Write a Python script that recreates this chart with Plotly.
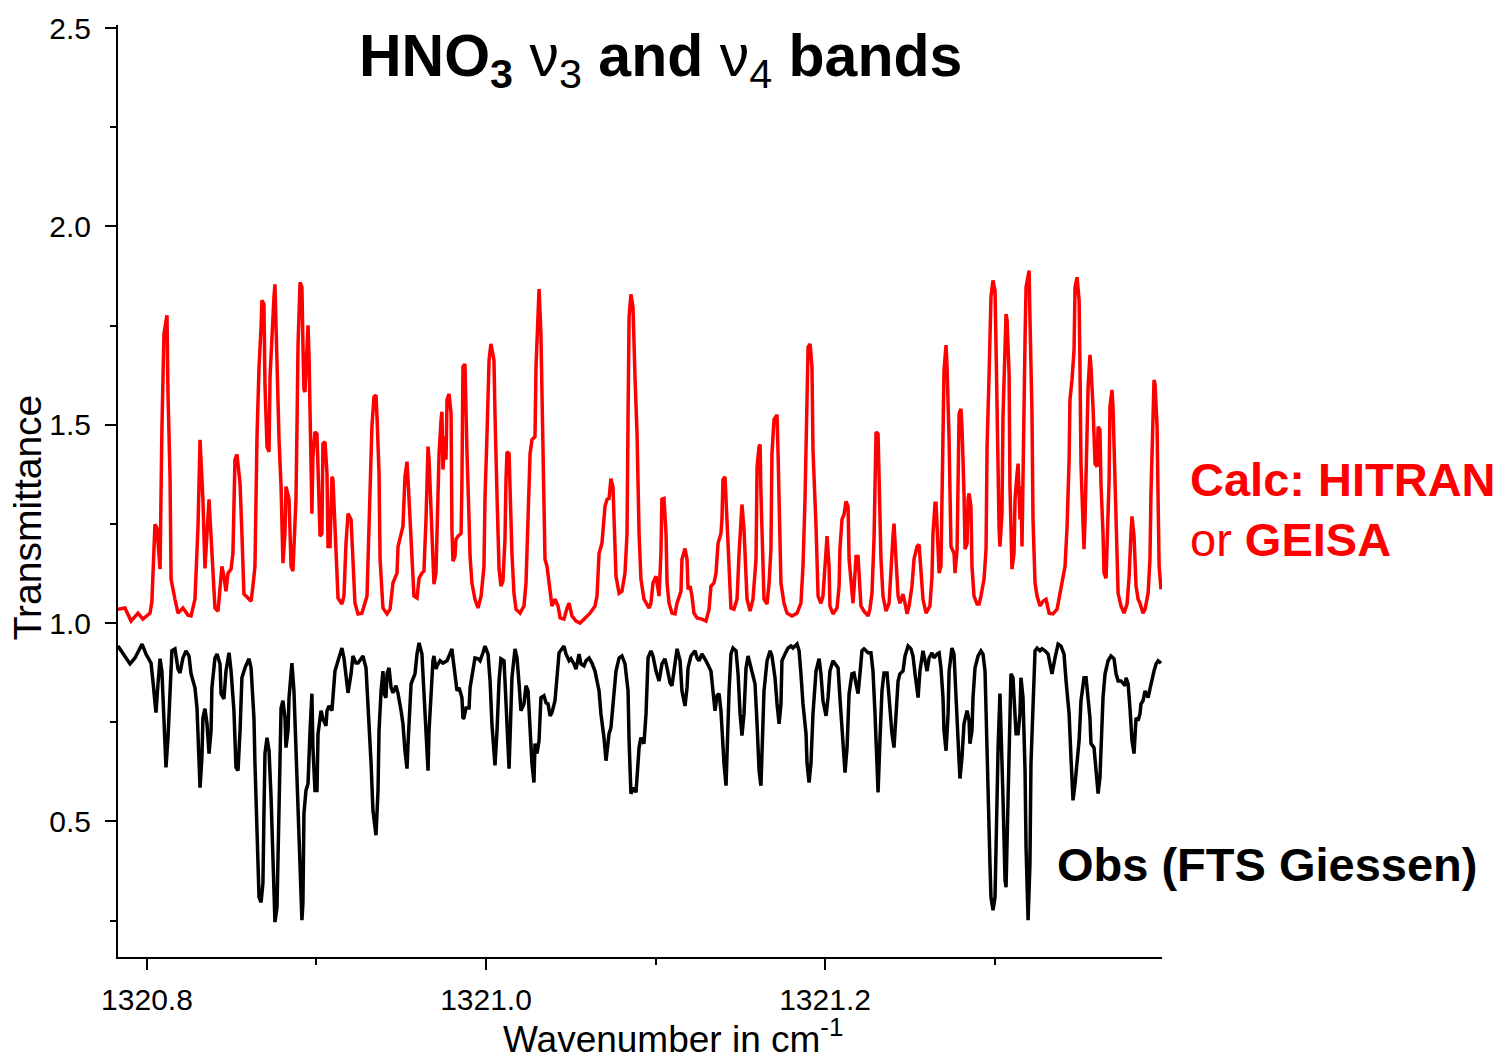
import plotly.graph_objects as go

# Calculated HNO3 transmittance (offset by +1 above the observed trace)
calc_wn = [
    1320.7829, 1320.7870, 1320.7906, 1320.7947, 1320.7976, 1320.8018, 1320.8029, 1320.8035, 1320.8047, 1320.8059,
    1320.8077, 1320.8088, 1320.8100, 1320.8118, 1320.8124, 1320.8136, 1320.8142, 1320.8165, 1320.8183, 1320.8212,
    1320.8242, 1320.8260, 1320.8283, 1320.8301, 1320.8313, 1320.8330, 1320.8342, 1320.8366, 1320.8378, 1320.8389,
    1320.8401, 1320.8419, 1320.8431, 1320.8442, 1320.8454, 1320.8466, 1320.8478, 1320.8496, 1320.8507, 1320.8519,
    1320.8531, 1320.8549, 1320.8560, 1320.8572, 1320.8596, 1320.8614, 1320.8625, 1320.8637, 1320.8649, 1320.8661,
    1320.8673, 1320.8678, 1320.8690, 1320.8696, 1320.8708, 1320.8720, 1320.8726, 1320.8737, 1320.8749, 1320.8755,
    1320.8767, 1320.8779, 1320.8791, 1320.8796, 1320.8802, 1320.8814, 1320.8820, 1320.8838, 1320.8850, 1320.8861,
    1320.8879, 1320.8885, 1320.8891, 1320.8903, 1320.8914, 1320.8920, 1320.8926, 1320.8932, 1320.8944, 1320.8950,
    1320.8956, 1320.8962, 1320.8968, 1320.8973, 1320.8979, 1320.8991, 1320.9003, 1320.9009, 1320.9021, 1320.9032,
    1320.9038, 1320.9050, 1320.9062, 1320.9068, 1320.9080, 1320.9091, 1320.9097, 1320.9109, 1320.9121, 1320.9127,
    1320.9150, 1320.9162, 1320.9174, 1320.9186, 1320.9204, 1320.9215, 1320.9227, 1320.9245, 1320.9268, 1320.9298,
    1320.9310, 1320.9327, 1320.9339, 1320.9351, 1320.9357, 1320.9369, 1320.9375, 1320.9392, 1320.9416, 1320.9434,
    1320.9451, 1320.9475, 1320.9481, 1320.9499, 1320.9510, 1320.9522, 1320.9534, 1320.9540, 1320.9552, 1320.9563,
    1320.9575, 1320.9593, 1320.9605, 1320.9622, 1320.9634, 1320.9646, 1320.9652, 1320.9658, 1320.9664, 1320.9676,
    1320.9687, 1320.9693, 1320.9705, 1320.9711, 1320.9723, 1320.9735, 1320.9740, 1320.9746, 1320.9758, 1320.9764,
    1320.9770, 1320.9782, 1320.9794, 1320.9799, 1320.9805, 1320.9817, 1320.9823, 1320.9835, 1320.9853, 1320.9858,
    1320.9864, 1320.9876, 1320.9882, 1320.9888, 1320.9900, 1320.9906, 1320.9917, 1320.9935, 1320.9953, 1320.9971,
    1320.9988, 1320.9994, 1321.0006, 1321.0018, 1321.0029, 1321.0047, 1321.0053, 1321.0059, 1321.0065, 1321.0077,
    1321.0088, 1321.0100, 1321.0112, 1321.0118, 1321.0124, 1321.0136, 1321.0142, 1321.0153, 1321.0165, 1321.0177,
    1321.0201, 1321.0224, 1321.0236, 1321.0248, 1321.0260, 1321.0271, 1321.0289, 1321.0295, 1321.0307, 1321.0313,
    1321.0324, 1321.0336, 1321.0348, 1321.0360, 1321.0372, 1321.0389, 1321.0407, 1321.0425, 1321.0437, 1321.0460,
    1321.0478, 1321.0490, 1321.0507, 1321.0531, 1321.0555, 1321.0584, 1321.0614, 1321.0643, 1321.0655, 1321.0667,
    1321.0684, 1321.0702, 1321.0714, 1321.0726, 1321.0737, 1321.0749, 1321.0755, 1321.0767, 1321.0785, 1321.0802,
    1321.0820, 1321.0832, 1321.0838, 1321.0844, 1321.0855, 1321.0867, 1321.0879, 1321.0885, 1321.0891, 1321.0903,
    1321.0914, 1321.0932, 1321.0962, 1321.0973, 1321.0985, 1321.1003, 1321.1009, 1321.1021, 1321.1032, 1321.1038,
    1321.1050, 1321.1062, 1321.1068, 1321.1080, 1321.1097, 1321.1115, 1321.1127, 1321.1150, 1321.1156, 1321.1174,
    1321.1186, 1321.1192, 1321.1204, 1321.1215, 1321.1227, 1321.1245, 1321.1274, 1321.1298, 1321.1316, 1321.1327,
    1321.1345, 1321.1357, 1321.1369, 1321.1386, 1321.1392, 1321.1398, 1321.1410, 1321.1416, 1321.1422, 1321.1434,
    1321.1445, 1321.1463, 1321.1481, 1321.1493, 1321.1504, 1321.1510, 1321.1522, 1321.1534, 1321.1540, 1321.1558,
    1321.1575, 1321.1593, 1321.1599, 1321.1611, 1321.1617, 1321.1622, 1321.1628, 1321.1640, 1321.1658, 1321.1670,
    1321.1681, 1321.1687, 1321.1699, 1321.1717, 1321.1723, 1321.1729, 1321.1740, 1321.1758, 1321.1776, 1321.1805,
    1321.1835, 1321.1858, 1321.1870, 1321.1882, 1321.1894, 1321.1900, 1321.1912, 1321.1923, 1321.1929, 1321.1935,
    1321.1947, 1321.1959, 1321.1976, 1321.1988, 1321.2000, 1321.2012, 1321.2024, 1321.2029, 1321.2047, 1321.2071,
    1321.2083, 1321.2088, 1321.2100, 1321.2112, 1321.2124, 1321.2136, 1321.2142, 1321.2153, 1321.2165, 1321.2171,
    1321.2183, 1321.2195, 1321.2201, 1321.2212, 1321.2230, 1321.2254, 1321.2265, 1321.2277, 1321.2289, 1321.2295,
    1321.2301, 1321.2313, 1321.2319, 1321.2330, 1321.2342, 1321.2360, 1321.2378, 1321.2389, 1321.2401, 1321.2407,
    1321.2419, 1321.2431, 1321.2442, 1321.2460, 1321.2472, 1321.2484, 1321.2496, 1321.2513, 1321.2525, 1321.2543,
    1321.2555, 1321.2566, 1321.2578, 1321.2596, 1321.2619, 1321.2631, 1321.2637, 1321.2649, 1321.2655, 1321.2667,
    1321.2673, 1321.2684, 1321.2690, 1321.2696, 1321.2702, 1321.2714, 1321.2720, 1321.2732, 1321.2737, 1321.2743,
    1321.2761, 1321.2767, 1321.2779, 1321.2785, 1321.2791, 1321.2802, 1321.2808, 1321.2820, 1321.2826, 1321.2838,
    1321.2844, 1321.2850, 1321.2861, 1321.2867, 1321.2879, 1321.2897, 1321.2909, 1321.2920, 1321.2938, 1321.2950,
    1321.2956, 1321.2968, 1321.2973, 1321.2979, 1321.2991, 1321.3003, 1321.3009, 1321.3015, 1321.3021, 1321.3027,
    1321.3032, 1321.3044, 1321.3050, 1321.3062, 1321.3068, 1321.3074, 1321.3086, 1321.3091, 1321.3097, 1321.3103,
    1321.3115, 1321.3121, 1321.3133, 1321.3139, 1321.3150, 1321.3156, 1321.3162, 1321.3168, 1321.3180, 1321.3186,
    1321.3204, 1321.3209, 1321.3221, 1321.3227, 1321.3239, 1321.3251, 1321.3268, 1321.3286, 1321.3304, 1321.3322,
    1321.3345, 1321.3369, 1321.3392, 1321.3404, 1321.3416, 1321.3428, 1321.3440, 1321.3445, 1321.3457, 1321.3469,
    1321.3475, 1321.3487, 1321.3499, 1321.3504, 1321.3510, 1321.3522, 1321.3528, 1321.3534, 1321.3546, 1321.3552,
    1321.3563, 1321.3569, 1321.3581, 1321.3587, 1321.3593, 1321.3605, 1321.3611, 1321.3622, 1321.3628, 1321.3640,
    1321.3646, 1321.3658, 1321.3664, 1321.3676, 1321.3681, 1321.3693, 1321.3699, 1321.3711, 1321.3717, 1321.3729,
    1321.3746, 1321.3764, 1321.3782, 1321.3794, 1321.3805, 1321.3811, 1321.3823, 1321.3835, 1321.3847, 1321.3858,
    1321.3876, 1321.3888, 1321.3906, 1321.3917, 1321.3923, 1321.3935, 1321.3941, 1321.3947, 1321.3959, 1321.3965,
    1321.3971, 1321.3982,
]
calc_tr = [
    1.035, 1.038, 1.005, 1.025, 1.010, 1.025, 1.055, 1.143, 1.249, 1.239,
    1.136, 1.487, 1.729, 1.776, 1.578, 1.369, 1.111, 1.060, 1.025, 1.038,
    1.020, 1.018, 1.060, 1.244, 1.462, 1.312, 1.138, 1.312, 1.226, 1.118,
    1.038, 1.030, 1.085, 1.143, 1.118, 1.080, 1.126, 1.136, 1.176, 1.412,
    1.425, 1.352, 1.226, 1.073, 1.063, 1.055, 1.093, 1.143, 1.470, 1.646,
    1.746, 1.814, 1.804, 1.603, 1.445, 1.432, 1.621, 1.729, 1.822, 1.854,
    1.646, 1.462, 1.344, 1.244, 1.151, 1.226, 1.344, 1.312, 1.143, 1.131,
    1.312, 1.495, 1.701, 1.859, 1.847, 1.704, 1.588, 1.583, 1.729, 1.751,
    1.671, 1.503, 1.294, 1.276, 1.420, 1.482, 1.477, 1.362, 1.219, 1.226,
    1.452, 1.457, 1.377, 1.193, 1.193, 1.369, 1.362, 1.244, 1.118, 1.063,
    1.048, 1.068, 1.201, 1.276, 1.261, 1.143, 1.050, 1.023, 1.025, 1.068,
    1.226, 1.495, 1.570, 1.575, 1.520, 1.377, 1.161, 1.038, 1.023, 1.035,
    1.101, 1.126, 1.193, 1.224, 1.244, 1.369, 1.407, 1.362, 1.244, 1.168,
    1.068, 1.063, 1.113, 1.126, 1.131, 1.261, 1.412, 1.445, 1.412, 1.269,
    1.143, 1.098, 1.126, 1.244, 1.427, 1.513, 1.533, 1.387, 1.470, 1.412,
    1.563, 1.578, 1.528, 1.236, 1.156, 1.168, 1.211, 1.219, 1.226, 1.352,
    1.646, 1.653, 1.495, 1.427, 1.261, 1.168, 1.101, 1.060, 1.038, 1.068,
    1.143, 1.312, 1.477, 1.663, 1.704, 1.663, 1.528, 1.394, 1.319, 1.138,
    1.093, 1.106, 1.211, 1.362, 1.432, 1.427, 1.312, 1.176, 1.075, 1.035,
    1.025, 1.043, 1.101, 1.261, 1.427, 1.462, 1.470, 1.646, 1.764, 1.842,
    1.729, 1.394, 1.161, 1.143, 1.093, 1.043, 1.060, 1.043, 1.013, 1.010,
    1.038, 1.050, 1.018, 1.005, 1.000, 1.013, 1.025, 1.043, 1.068, 1.176,
    1.201, 1.294, 1.312, 1.314, 1.364, 1.344, 1.261, 1.118, 1.075, 1.080,
    1.126, 1.226, 1.520, 1.771, 1.829, 1.797, 1.621, 1.545, 1.477, 1.226,
    1.111, 1.060, 1.038, 1.050, 1.101, 1.118, 1.101, 1.068, 1.176, 1.312,
    1.314, 1.226, 1.101, 1.050, 1.025, 1.023, 1.050, 1.080, 1.161, 1.188,
    1.161, 1.085, 1.093, 1.068, 1.025, 1.013, 1.010, 1.005, 1.035, 1.093,
    1.101, 1.126, 1.201, 1.226, 1.261, 1.362, 1.369, 1.312, 1.226, 1.101,
    1.038, 1.035, 1.060, 1.176, 1.286, 1.299, 1.236, 1.143, 1.060, 1.030,
    1.060, 1.161, 1.394, 1.445, 1.450, 1.327, 1.211, 1.060, 1.048, 1.101,
    1.186, 1.427, 1.513, 1.525, 1.427, 1.269, 1.101, 1.050, 1.025, 1.018,
    1.025, 1.050, 1.143, 1.312, 1.563, 1.696, 1.704, 1.646, 1.437, 1.377,
    1.244, 1.068, 1.050, 1.068, 1.161, 1.219, 1.143, 1.043, 1.023, 1.038,
    1.093, 1.186, 1.261, 1.274, 1.307, 1.294, 1.161, 1.093, 1.050, 1.085,
    1.168, 1.168, 1.111, 1.043, 1.030, 1.018, 1.035, 1.075, 1.211, 1.352,
    1.482, 1.477, 1.362, 1.161, 1.068, 1.030, 1.050, 1.143, 1.219, 1.251,
    1.161, 1.068, 1.050, 1.073, 1.050, 1.023, 1.043, 1.093, 1.161, 1.193,
    1.198, 1.143, 1.060, 1.025, 1.043, 1.118, 1.226, 1.302, 1.302, 1.186,
    1.126, 1.143, 1.312, 1.470, 1.638, 1.701, 1.646, 1.462, 1.312, 1.193,
    1.176, 1.126, 1.186, 1.402, 1.528, 1.540, 1.495, 1.327, 1.186, 1.201,
    1.312, 1.327, 1.294, 1.143, 1.068, 1.048, 1.048, 1.068, 1.111, 1.186,
    1.445, 1.628, 1.704, 1.822, 1.864, 1.839, 1.696, 1.513, 1.420, 1.236,
    1.193, 1.276, 1.520, 1.688, 1.779, 1.764, 1.628, 1.344, 1.211, 1.136,
    1.176, 1.312, 1.377, 1.402, 1.261, 1.344, 1.193, 1.412, 1.714, 1.847,
    1.889, 1.771, 1.528, 1.261, 1.101, 1.068, 1.043, 1.055, 1.060, 1.025,
    1.023, 1.035, 1.093, 1.126, 1.143, 1.244, 1.412, 1.563, 1.613, 1.688,
    1.847, 1.872, 1.814, 1.653, 1.402, 1.251, 1.186, 1.261, 1.477, 1.595,
    1.676, 1.646, 1.545, 1.462, 1.402, 1.394, 1.495, 1.487, 1.352, 1.226,
    1.126, 1.113, 1.201, 1.362, 1.545, 1.588, 1.545, 1.352, 1.186, 1.075,
    1.043, 1.025, 1.048, 1.118, 1.226, 1.269, 1.219, 1.093, 1.060, 1.050,
    1.025, 1.035, 1.075, 1.161, 1.327, 1.495, 1.613, 1.603, 1.495, 1.312,
    1.143, 1.085,
]

# Observed spectrum (FTS Giessen)
obs_wn = [
    1320.7829, 1320.7858, 1320.7900, 1320.7929, 1320.7971, 1320.7994, 1320.8024, 1320.8035, 1320.8047, 1320.8053,
    1320.8065, 1320.8077, 1320.8088, 1320.8100, 1320.8112, 1320.8124, 1320.8136, 1320.8147, 1320.8165, 1320.8183,
    1320.8195, 1320.8212, 1320.8230, 1320.8248, 1320.8260, 1320.8283, 1320.8295, 1320.8307, 1320.8313, 1320.8324,
    1320.8330, 1320.8342, 1320.8354, 1320.8366, 1320.8378, 1320.8383, 1320.8401, 1320.8413, 1320.8431, 1320.8437,
    1320.8454, 1320.8466, 1320.8484, 1320.8496, 1320.8513, 1320.8525, 1320.8537, 1320.8549, 1320.8560, 1320.8578,
    1320.8602, 1320.8614, 1320.8631, 1320.8637, 1320.8649, 1320.8661, 1320.8673, 1320.8684, 1320.8690, 1320.8696,
    1320.8708, 1320.8720, 1320.8732, 1320.8737, 1320.8749, 1320.8755, 1320.8767, 1320.8773, 1320.8785, 1320.8791,
    1320.8802, 1320.8814, 1320.8820, 1320.8832, 1320.8838, 1320.8850, 1320.8855, 1320.8867, 1320.8879, 1320.8891,
    1320.8903, 1320.8914, 1320.8920, 1320.8926, 1320.8938, 1320.8950, 1320.8962, 1320.8973, 1320.8979, 1320.8991,
    1320.9003, 1320.9009, 1320.9027, 1320.9038, 1320.9056, 1320.9062, 1320.9074, 1320.9091, 1320.9097, 1320.9109,
    1320.9127, 1320.9150, 1320.9162, 1320.9180, 1320.9186, 1320.9204, 1320.9215, 1320.9233, 1320.9245, 1320.9263,
    1320.9274, 1320.9292, 1320.9304, 1320.9322, 1320.9333, 1320.9351, 1320.9363, 1320.9369, 1320.9381, 1320.9392,
    1320.9398, 1320.9410, 1320.9416, 1320.9428, 1320.9440, 1320.9451, 1320.9469, 1320.9481, 1320.9499, 1320.9510,
    1320.9522, 1320.9534, 1320.9540, 1320.9546, 1320.9558, 1320.9569, 1320.9581, 1320.9593, 1320.9605, 1320.9622,
    1320.9628, 1320.9640, 1320.9652, 1320.9658, 1320.9664, 1320.9676, 1320.9687, 1320.9693, 1320.9705, 1320.9711,
    1320.9729, 1320.9746, 1320.9770, 1320.9782, 1320.9799, 1320.9805, 1320.9817, 1320.9829, 1320.9841, 1320.9858,
    1320.9864, 1320.9870, 1320.9882, 1320.9900, 1320.9906, 1320.9923, 1320.9935, 1320.9953, 1320.9965, 1320.9982,
    1320.9994, 1321.0012, 1321.0024, 1321.0035, 1321.0047, 1321.0053, 1321.0065, 1321.0077, 1321.0088, 1321.0106,
    1321.0112, 1321.0124, 1321.0136, 1321.0142, 1321.0153, 1321.0171, 1321.0183, 1321.0195, 1321.0206, 1321.0224,
    1321.0236, 1321.0248, 1321.0260, 1321.0271, 1321.0283, 1321.0289, 1321.0301, 1321.0313, 1321.0324, 1321.0342,
    1321.0354, 1321.0366, 1321.0378, 1321.0389, 1321.0407, 1321.0419, 1321.0431, 1321.0460, 1321.0472, 1321.0490,
    1321.0501, 1321.0519, 1321.0531, 1321.0549, 1321.0560, 1321.0578, 1321.0590, 1321.0608, 1321.0625, 1321.0643,
    1321.0667, 1321.0678, 1321.0696, 1321.0708, 1321.0726, 1321.0737, 1321.0755, 1321.0767, 1321.0785, 1321.0802,
    1321.0820, 1321.0838, 1321.0844, 1321.0850, 1321.0855, 1321.0873, 1321.0885, 1321.0891, 1321.0903, 1321.0914,
    1321.0932, 1321.0944, 1321.0956, 1321.0973, 1321.0985, 1321.1003, 1321.1021, 1321.1038, 1321.1056, 1321.1068,
    1321.1086, 1321.1097, 1321.1115, 1321.1127, 1321.1145, 1321.1156, 1321.1174, 1321.1186, 1321.1192, 1321.1209,
    1321.1233, 1321.1245, 1321.1257, 1321.1274, 1321.1298, 1321.1316, 1321.1327, 1321.1339, 1321.1351, 1321.1363,
    1321.1375, 1321.1386, 1321.1392, 1321.1404, 1321.1416, 1321.1422, 1321.1434, 1321.1445, 1321.1457, 1321.1475,
    1321.1487, 1321.1499, 1321.1510, 1321.1522, 1321.1534, 1321.1546, 1321.1563, 1321.1575, 1321.1587, 1321.1599,
    1321.1611, 1321.1622, 1321.1628, 1321.1640, 1321.1658, 1321.1676, 1321.1687, 1321.1705, 1321.1717, 1321.1729,
    1321.1740, 1321.1746, 1321.1764, 1321.1782, 1321.1799, 1321.1811, 1321.1835, 1321.1847, 1321.1858, 1321.1870,
    1321.1888, 1321.1894, 1321.1906, 1321.1917, 1321.1929, 1321.1947, 1321.1965, 1321.1976, 1321.1988, 1321.2006,
    1321.2018, 1321.2029, 1321.2047, 1321.2059, 1321.2077, 1321.2088, 1321.2106, 1321.2118, 1321.2130, 1321.2142,
    1321.2159, 1321.2171, 1321.2183, 1321.2195, 1321.2206, 1321.2218, 1321.2230, 1321.2254, 1321.2271, 1321.2283,
    1321.2295, 1321.2307, 1321.2313, 1321.2324, 1321.2336, 1321.2348, 1321.2366, 1321.2378, 1321.2395, 1321.2407,
    1321.2419, 1321.2431, 1321.2442, 1321.2460, 1321.2472, 1321.2490, 1321.2507, 1321.2519, 1321.2531, 1321.2549,
    1321.2560, 1321.2578, 1321.2590, 1321.2602, 1321.2614, 1321.2631, 1321.2643, 1321.2661, 1321.2673, 1321.2684,
    1321.2696, 1321.2702, 1321.2714, 1321.2726, 1321.2732, 1321.2749, 1321.2761, 1321.2773, 1321.2785, 1321.2796,
    1321.2808, 1321.2820, 1321.2838, 1321.2850, 1321.2855, 1321.2867, 1321.2873, 1321.2885, 1321.2903, 1321.2920,
    1321.2932, 1321.2944, 1321.2950, 1321.2962, 1321.2973, 1321.2979, 1321.2991, 1321.3003, 1321.3009, 1321.3021,
    1321.3032, 1321.3038, 1321.3050, 1321.3062, 1321.3068, 1321.3080, 1321.3091, 1321.3097, 1321.3109, 1321.3121,
    1321.3127, 1321.3139, 1321.3150, 1321.3156, 1321.3168, 1321.3180, 1321.3186, 1321.3198, 1321.3209, 1321.3215,
    1321.3227, 1321.3239, 1321.3251, 1321.3268, 1321.3280, 1321.3298, 1321.3316, 1321.3333, 1321.3339, 1321.3357,
    1321.3375, 1321.3392, 1321.3410, 1321.3422, 1321.3440, 1321.3451, 1321.3463, 1321.3475, 1321.3481, 1321.3499,
    1321.3510, 1321.3528, 1321.3540, 1321.3552, 1321.3563, 1321.3569, 1321.3587, 1321.3599, 1321.3611, 1321.3622,
    1321.3628, 1321.3640, 1321.3652, 1321.3670, 1321.3687, 1321.3705, 1321.3717, 1321.3729, 1321.3746, 1321.3758,
    1321.3770, 1321.3776, 1321.3788, 1321.3799, 1321.3811, 1321.3823, 1321.3829, 1321.3835, 1321.3847, 1321.3858,
    1321.3864, 1321.3876, 1321.3888, 1321.3894, 1321.3906, 1321.3917, 1321.3923, 1321.3941, 1321.3953, 1321.3965,
    1321.3982,
]
obs_tr = [
    0.942, 0.925, 0.897, 0.912, 0.947, 0.922, 0.899, 0.854, 0.786, 0.774,
    0.847, 0.910, 0.879, 0.746, 0.636, 0.711, 0.854, 0.930, 0.935, 0.884,
    0.874, 0.912, 0.930, 0.917, 0.872, 0.837, 0.786, 0.678, 0.585, 0.661,
    0.761, 0.784, 0.746, 0.671, 0.729, 0.837, 0.912, 0.922, 0.897, 0.822,
    0.809, 0.879, 0.925, 0.879, 0.779, 0.636, 0.628, 0.729, 0.862, 0.887,
    0.910, 0.887, 0.761, 0.646, 0.435, 0.309, 0.296, 0.344, 0.520, 0.671,
    0.711, 0.678, 0.560, 0.477, 0.327, 0.246, 0.284, 0.394, 0.603, 0.786,
    0.804, 0.761, 0.686, 0.729, 0.812, 0.897, 0.899, 0.829, 0.686, 0.495,
    0.394, 0.251, 0.294, 0.520, 0.578, 0.595, 0.729, 0.822, 0.686, 0.578,
    0.578, 0.721, 0.779, 0.759, 0.741, 0.779, 0.791, 0.779, 0.812, 0.879,
    0.905, 0.937, 0.912, 0.837, 0.824, 0.872, 0.917, 0.899, 0.899, 0.910,
    0.917, 0.887, 0.796, 0.646, 0.528, 0.465, 0.578, 0.729, 0.829, 0.879,
    0.822, 0.812, 0.872, 0.887, 0.837, 0.824, 0.842, 0.822, 0.779, 0.746,
    0.678, 0.633, 0.696, 0.761, 0.847, 0.859, 0.872, 0.922, 0.950, 0.922,
    0.872, 0.796, 0.661, 0.628, 0.729, 0.829, 0.905, 0.917, 0.884, 0.892,
    0.905, 0.899, 0.905, 0.917, 0.935, 0.912, 0.872, 0.829, 0.837, 0.812,
    0.759, 0.761, 0.786, 0.786, 0.837, 0.887, 0.912, 0.910, 0.905, 0.925,
    0.942, 0.922, 0.854, 0.746, 0.661, 0.641, 0.729, 0.854, 0.910, 0.905,
    0.854, 0.729, 0.633, 0.711, 0.862, 0.935, 0.912, 0.847, 0.779, 0.796,
    0.842, 0.829, 0.736, 0.646, 0.598, 0.696, 0.671, 0.704, 0.812, 0.817,
    0.799, 0.796, 0.766, 0.774, 0.804, 0.879, 0.925, 0.942, 0.922, 0.905,
    0.910, 0.897, 0.884, 0.922, 0.897, 0.892, 0.905, 0.912, 0.899, 0.879,
    0.829, 0.771, 0.711, 0.653, 0.721, 0.736, 0.812, 0.879, 0.912, 0.917,
    0.897, 0.829, 0.704, 0.628, 0.570, 0.585, 0.573, 0.611, 0.686, 0.711,
    0.696, 0.771, 0.912, 0.930, 0.917, 0.879, 0.854, 0.897, 0.910, 0.887,
    0.849, 0.842, 0.897, 0.935, 0.905, 0.829, 0.791, 0.837, 0.887, 0.917,
    0.930, 0.912, 0.905, 0.922, 0.905, 0.887, 0.879, 0.829, 0.779, 0.817,
    0.822, 0.779, 0.729, 0.646, 0.590, 0.686, 0.829, 0.922, 0.937, 0.930,
    0.872, 0.771, 0.716, 0.771, 0.887, 0.917, 0.887, 0.872, 0.847, 0.746,
    0.628, 0.590, 0.686, 0.829, 0.905, 0.930, 0.917, 0.862, 0.796, 0.746,
    0.796, 0.905, 0.922, 0.937, 0.942, 0.937, 0.947, 0.930, 0.872, 0.796,
    0.721, 0.646, 0.598, 0.646, 0.771, 0.879, 0.910, 0.872, 0.804, 0.766,
    0.812, 0.879, 0.905, 0.897, 0.887, 0.812, 0.704, 0.623, 0.686, 0.822,
    0.872, 0.874, 0.847, 0.822, 0.872, 0.930, 0.935, 0.925, 0.925, 0.879,
    0.771, 0.646, 0.573, 0.704, 0.829, 0.874, 0.874, 0.812, 0.721, 0.686,
    0.761, 0.854, 0.872, 0.879, 0.917, 0.942, 0.935, 0.917, 0.872, 0.812,
    0.879, 0.930, 0.905, 0.879, 0.912, 0.925, 0.912, 0.922, 0.925, 0.887,
    0.812, 0.729, 0.678, 0.771, 0.879, 0.937, 0.922, 0.829, 0.704, 0.608,
    0.661, 0.746, 0.779, 0.754, 0.696, 0.729, 0.812, 0.887, 0.917, 0.930,
    0.922, 0.879, 0.761, 0.560, 0.394, 0.309, 0.276, 0.309, 0.477, 0.686,
    0.822, 0.746, 0.560, 0.352, 0.334, 0.560, 0.729, 0.872, 0.862, 0.771,
    0.721, 0.721, 0.771, 0.862, 0.812, 0.628, 0.435, 0.251, 0.394, 0.646,
    0.812, 0.930, 0.937, 0.930, 0.935, 0.930, 0.922, 0.887, 0.872, 0.912,
    0.947, 0.942, 0.922, 0.854, 0.771, 0.661, 0.553, 0.595, 0.628, 0.704,
    0.804, 0.862, 0.862, 0.812, 0.761, 0.696, 0.686, 0.628, 0.570, 0.611,
    0.704, 0.812, 0.872, 0.905, 0.917, 0.910, 0.872, 0.854, 0.854, 0.847,
    0.842, 0.862, 0.847, 0.786, 0.704, 0.671, 0.729, 0.761, 0.754, 0.771,
    0.796, 0.804, 0.829, 0.822, 0.812, 0.834, 0.847, 0.879, 0.897, 0.905,
    0.899,
]

# Axis ticks
x_major = [1320.8, 1321.0, 1321.2]
x_major_text = ["1320.8", "1321.0", "1321.2"]
x_minor = [1320.9, 1321.1, 1321.3]
y_major = [0.5, 1.0, 1.5, 2.0, 2.5]
y_major_text = ["0.5", "1.0", "1.5", "2.0", "2.5"]
y_minor = [0.25, 0.75, 1.25, 1.75, 2.25]

FONT = "Arial, Liberation Sans, sans-serif"

fig = go.Figure()
fig.add_trace(go.Scatter(x=calc_wn, y=calc_tr, mode="lines",
                         line=dict(color="#ff0000", width=3.5), showlegend=False))
fig.add_trace(go.Scatter(x=obs_wn, y=obs_tr, mode="lines",
                         line=dict(color="#000000", width=3.5), showlegend=False))

axis_common = dict(
    showline=True, linecolor="black", linewidth=2,
    showgrid=False, zeroline=False, mirror=False,
    ticks="outside", ticklen=11, tickwidth=2, tickcolor="black",
    tickfont=dict(family=FONT, size=30, color="black"),
)

fig.update_xaxes(
    range=[1320.7829, 1321.3988], tickmode="array",
    tickvals=x_major, ticktext=x_major_text, ticklabelstandoff=4,
    minor=dict(tickmode="array", tickvals=x_minor, ticks="outside",
               ticklen=6, tickwidth=2, tickcolor="black"),
    **axis_common,
)
fig.update_yaxes(
    range=[0.158, 2.508], tickmode="array",
    tickvals=y_major, ticktext=y_major_text, ticklabelstandoff=8,
    minor=dict(tickmode="array", tickvals=y_minor, ticks="outside",
               ticklen=6, tickwidth=2, tickcolor="black"),
    **axis_common,
)

annotations = [
    dict(text="<b>HNO<sub>3</sub></b> ν<sub>3</sub> <b>and</b> ν<sub>4</sub> <b>bands</b>",
         x=0.5192, y=0.962, xanchor="center", yanchor="middle",
         font=dict(family=FONT, size=59, color="black")),
    dict(text="<b>Calc: HITRAN</b>", x=1.0249, y=0.5123, xanchor="left", yanchor="middle",
         font=dict(family=FONT, size=47, color="#ff0000")),
    dict(text="or <b>GEISA</b>", x=1.0249, y=0.4481, xanchor="left", yanchor="middle",
         font=dict(family=FONT, size=47, color="#ff0000")),
    dict(text="<b>Obs (FTS Giessen)</b>", x=0.8975, y=0.0995, xanchor="left", yanchor="middle",
         font=dict(family=FONT, size=47, color="black")),
    dict(text="Transmittance", x=-0.0872, y=0.4717, xanchor="center", yanchor="middle",
         textangle=-90, font=dict(family=FONT, size=39, color="black")),
    dict(text="Wavenumber in cm<sup>-1</sup>", x=0.5316, y=-0.0856, xanchor="center",
         yanchor="middle", font=dict(family=FONT, size=37, color="black")),
]
for a in annotations:
    a.update(xref="paper", yref="paper", showarrow=False)

fig.update_layout(
    width=1499, height=1058,
    margin=dict(l=118, r=337, t=22, b=101),
    paper_bgcolor="white", plot_bgcolor="white",
    annotations=annotations,
)

fig.write_html("out.html")
